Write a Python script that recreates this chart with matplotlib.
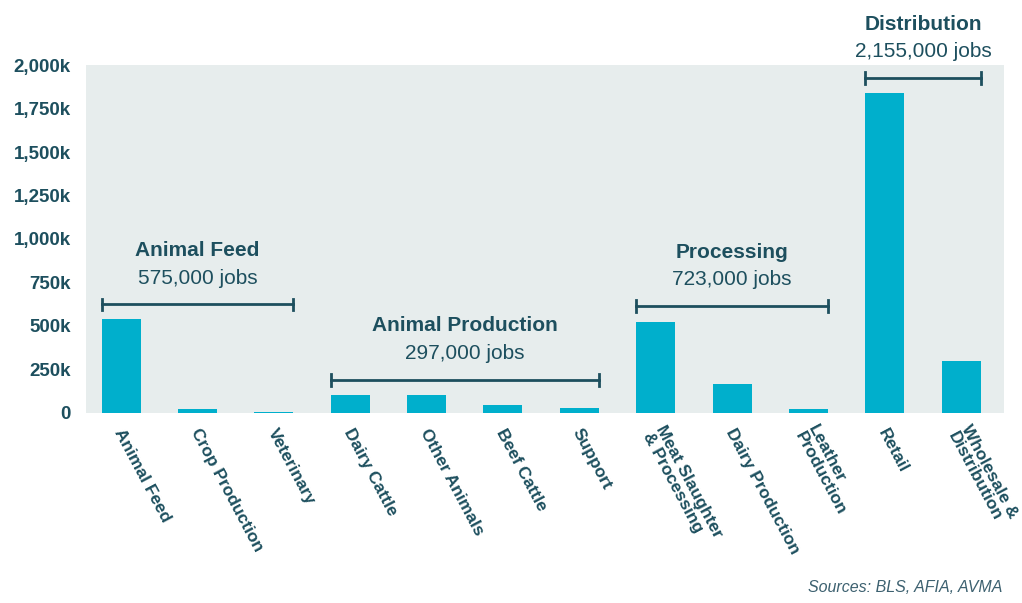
import matplotlib.pyplot as plt
from matplotlib.ticker import FuncFormatter

plt.rcParams['font.family'] = ['Liberation Sans', 'DejaVu Sans']

categories = ['Animal Feed', 'Crop Production', 'Veterinary', 'Dairy Cattle',
              'Other Animals', 'Beef Cattle', 'Support',
              'Meat Slaughter\n& Processing', 'Dairy Production',
              'Leather\nProduction', 'Retail', 'Wholesale &\nDistribution']
jobs_k = [540, 23, 8, 104, 103, 47, 30, 523, 167, 23, 1838, 299]

groups = ['Animal Feed', 'Animal Production', 'Processing', 'Distribution']
group_totals = ['575,000 jobs', '297,000 jobs', '723,000 jobs', '2,155,000 jobs']
group_first = [0, 3, 7, 10]
group_last = [2, 6, 9, 11]
bracket_y = [625, 190, 615, 1925]

bar_col = '#00afcc'
dark = '#1d4f5e'
bg = '#e7eded'
bw = 0.51

fig = plt.figure(figsize=(10.22, 6.03), dpi=100)
ax = fig.add_axes([0.0841, 0.3151, 0.8983, 0.5771])
ax.set_facecolor(bg)
x = list(range(len(categories)))
ax.bar(x, jobs_k, width=bw, color=bar_col, zorder=2)

ax.set_xlim(-0.46, 11.56)
ax.set_ylim(0, 2000)
ax.set_yticks(range(0, 2001, 250))
ax.yaxis.set_major_formatter(FuncFormatter(lambda v, p: '0' if v == 0 else f'{int(v):,}k'))
ax.tick_params(axis='y', length=0, pad=11, labelsize=13.5, labelcolor=dark)
for t in ax.get_yticklabels():
    t.set_fontweight('bold')
ax.set_xticks(x)
ax.set_xticklabels([])
ax.tick_params(axis='x', length=0)
for s in ax.spines.values():
    s.set_visible(False)

for i, lab in enumerate(categories):
    ax.annotate(lab, (i, 0), xytext=(-2, -12), textcoords='offset points',
                rotation=-62, rotation_mode='anchor', ha='left', va='center',
                fontsize=12.5, fontweight='bold', color=dark,
                linespacing=1.0, annotation_clip=False)

cap = 32
for g, tot, a, b, yb in zip(groups, group_totals, group_first, group_last, bracket_y):
    x0 = a - bw / 2
    x1 = b + bw / 2
    ax.plot([x0, x1], [yb, yb], color=dark, lw=2, clip_on=False, zorder=3)
    ax.plot([x0, x0], [yb - cap, yb + cap], color=dark, lw=2, clip_on=False, zorder=3)
    ax.plot([x1, x1], [yb - cap, yb + cap], color=dark, lw=2, clip_on=False, zorder=3)
    xm = (x0 + x1) / 2
    ax.text(xm, yb + 150, tot, ha='center', va='center', fontsize=15,
            color=dark, clip_on=False)
    ax.text(xm, yb + 310, g, ha='center', va='center', fontsize=15,
            fontweight='bold', color=dark, clip_on=False)

fig.text(0.981, 0.013, 'Sources: BLS, AFIA, AVMA', ha='right', va='bottom',
         fontsize=11.5, style='italic', color='#3d6170')

fig.savefig('out.png', dpi=100)
